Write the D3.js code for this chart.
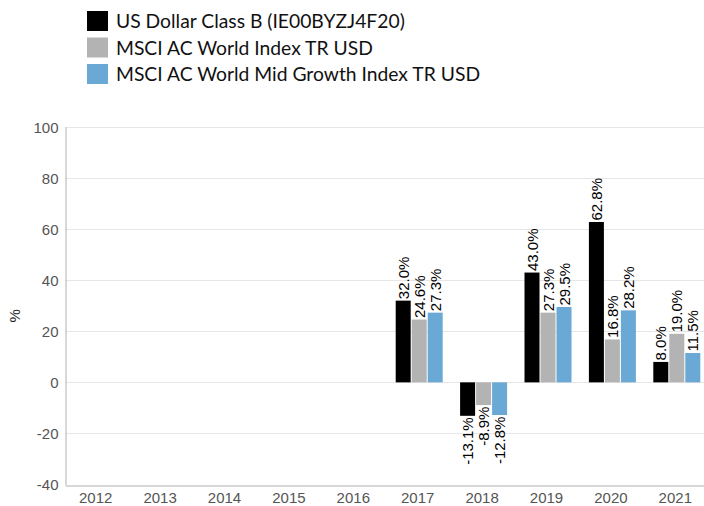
<!DOCTYPE html>
<html>
<head>
<meta charset="utf-8">
<script src="https://cdn.jsdelivr.net/npm/d3@7"></script>
<style>
  body { margin: 0; background: #fff; }
  svg { display: block; }
  .ar { font-family: Arial, "Liberation Sans", sans-serif; }
</style>
</head>
<body>
<div id="chart"></div>
<script>
const years = ["2012", "2013", "2014", "2015", "2016", "2017", "2018", "2019", "2020", "2021"];
const seriesNames = [
  "US Dollar Class B (IE00BYZJ4F20)",
  "MSCI AC World Index TR USD",
  "MSCI AC World Mid Growth Index TR USD"
];
const fundValues  = [null, null, null, null, null, 32.0, -13.1, 43.0, 62.8, 8.0];
const indexValues = [null, null, null, null, null, 24.6, -8.9, 27.3, 16.8, 19.0];
const midValues   = [null, null, null, null, null, 27.3, -12.8, 29.5, 28.2, 11.5];
const yTicks = [-40, -20, 0, 20, 40, 60, 80, 100];
const colors = ["#000000", "#b3b3b3", "#6aa8d6"];

const width = 704, height = 506;
const margin = {top: 127, bottom: 21, left: 65};

const svg = d3.select("#chart").append("svg")
  .attr("width", width)
  .attr("height", height);

const x = d3.scaleBand()
  .domain(years)
  .range([margin.left, margin.left + 644]);

const groupW = 47;
const x1 = d3.scaleBand()
  .domain([0, 1, 2])
  .range([0, groupW])
  .paddingInner(0.0625);

const y = d3.scaleLinear()
  .domain([-40, 100])
  .range([height - margin.bottom - 0.5, margin.top]);

// gridlines
svg.append("g")
  .selectAll("line")
  .data(yTicks.filter(d => d !== -40))
  .join("line")
  .attr("x1", margin.left)
  .attr("x2", width)
  .attr("y1", d => Math.round(y(d)) + 0.5)
  .attr("y2", d => Math.round(y(d)) + 0.5)
  .attr("stroke", "#e6e6e6");

// y axis
const yAxis = svg.append("g")
  .attr("transform", `translate(${margin.left + 0.5},0)`)
  .call(d3.axisLeft(y).tickValues(yTicks).tickFormat(d => String(d)).tickSize(0).tickPadding(7));
yAxis.attr("font-family", null).attr("font-size", null).attr("class", "ar");
yAxis.select(".domain").attr("stroke", "#b0b0b0");
yAxis.selectAll("text")
  .attr("fill", "#555")
  .attr("dy", "0.35em")
  .style("font-size", "15px");

// x axis
const xAxis = svg.append("g")
  .attr("transform", `translate(0,${Math.round(y(-40)) + 0.5})`)
  .call(d3.axisBottom(x).tickSize(0).tickPadding(7));
xAxis.attr("font-family", null).attr("font-size", null).attr("class", "ar");
xAxis.select(".domain").attr("stroke", "#b0b0b0");
xAxis.selectAll("text")
  .attr("fill", "#555")
  .attr("dx", "-1.5")
  .style("font-size", "15px");

// y label
svg.append("text")
  .attr("class", "ar")
  .attr("transform", `translate(20,${(y(100) + y(-40)) / 2 + 10}) rotate(-90)`)
  .attr("text-anchor", "middle")
  .style("font-size", "15px")
  .attr("fill", "#222")
  .text("%");

// bars
const all = [fundValues, indexValues, midValues];
const barData = [];
years.forEach((yr, i) => {
  all.forEach((vals, s) => {
    if (vals[i] !== null) barData.push({year: yr, s: s, v: vals[i]});
  });
});

const groupOffset = (x.bandwidth() - groupW) / 2;

const bars = svg.append("g")
  .attr("class", "ar")
  .selectAll("g")
  .data(barData)
  .join("g")
  .attr("transform", d => `translate(${x(d.year) + groupOffset + x1(d.s)},0)`);

bars.append("rect")
  .attr("x", 0)
  .attr("width", x1.bandwidth())
  .attr("y", d => y(Math.max(0, d.v)))
  .attr("height", d => Math.abs(y(d.v) - y(0)))
  .attr("fill", d => colors[d.s]);

bars.append("text")
  .attr("transform", d => {
    const cx = x1.bandwidth() / 2 + 5.5;
    const yy = d.v >= 0 ? y(d.v) - 1.5 : y(d.v) + 1.5;
    return `translate(${cx},${yy}) rotate(-90)`;
  })
  .attr("text-anchor", d => d.v >= 0 ? "start" : "end")
  .style("font-size", "15px")
  .attr("fill", "#000")
  .text(d => d.v.toFixed(1) + "%");

// legend
const legend = svg.append("g")
  .selectAll("g")
  .data(seriesNames)
  .join("g")
  .attr("transform", (d, i) => `translate(87,${11 + i * 26.5})`);

legend.append("rect")
  .attr("width", 21)
  .attr("height", 20)
  .attr("fill", (d, i) => colors[i]);

legend.append("text")
  .attr("x", 29)
  .attr("y", 17)
  .style("font-family", "Lato, sans-serif")
  .style("font-size", "19.3px")
  .attr("fill", "#111")
  .text(d => d);
</script>
</body>
</html>
